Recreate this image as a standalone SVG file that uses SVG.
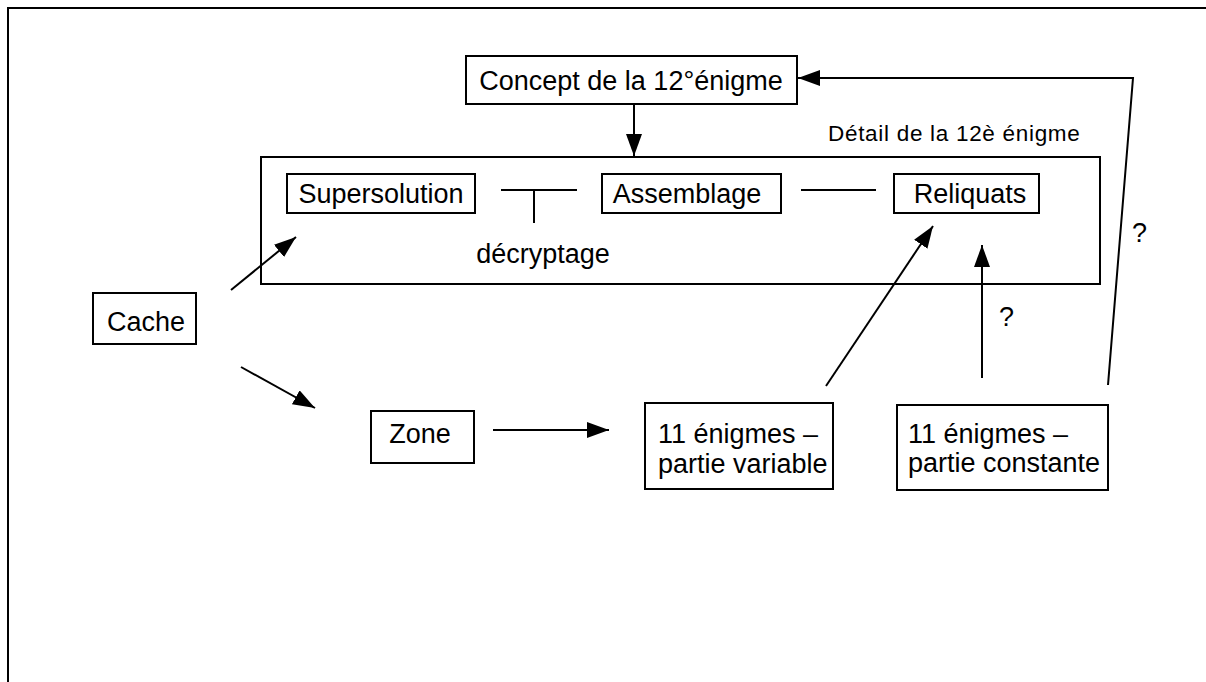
<svg xmlns="http://www.w3.org/2000/svg" width="1206" height="682" viewBox="0 0 1206 682">
<style>
.box{fill:#fff;stroke:#000;stroke-width:2}
.t{font-family:"Liberation Sans",Arial,sans-serif;font-size:27px;fill:#000}
.c{text-anchor:middle}
.ln{stroke:#000;stroke-width:2;fill:none}
</style>
<defs>
<marker id="ah" viewBox="0 0 22 16" refX="22" refY="8" markerWidth="22" markerHeight="16" markerUnits="userSpaceOnUse" orient="auto">
<path d="M0,0 L22,8 L0,16 Z" fill="#000"/>
</marker>
</defs>
<rect width="1206" height="682" fill="#fff"/>
<path class="ln" d="M8,682 V8 H1206"/>
<g id="container">
<rect class="box" x="261" y="157" width="839" height="127"/>
<text class="t" x="828" y="141" style="font-size:22.5px;letter-spacing:0.7px">Détail de la 12è énigme</text>
</g>
<g id="concept"><rect class="box" x="466" y="56" width="331" height="48"/><text class="t c" x="631" y="90">Concept de la 12°énigme</text></g>
<g id="supersolution"><rect class="box" x="287" y="174" width="188" height="39"/><text class="t c" x="381" y="203">Supersolution</text></g>
<g id="assemblage"><rect class="box" x="602" y="174" width="179" height="39"/><text class="t c" x="687" y="203">Assemblage</text></g>
<g id="reliquats"><rect class="box" x="894" y="174" width="145" height="39"/><text class="t c" x="970" y="203">Reliquats</text></g>
<g id="cache"><rect class="box" x="93" y="293" width="103" height="51"/><text class="t c" x="146" y="331">Cache</text></g>
<g id="zone"><rect class="box" x="371" y="411" width="103" height="52"/><text class="t c" x="420" y="443">Zone</text></g>
<g id="variable"><rect class="box" x="645" y="403" width="188" height="86"/><text class="t" x="658" y="443">11 énigmes –</text><text class="t" x="658" y="473">partie variable</text></g>
<g id="constante"><rect class="box" x="897" y="405" width="211" height="85"/><text class="t" x="908" y="443">11 énigmes –</text><text class="t" x="908" y="472">partie constante</text></g>
<g id="connectors">
<line class="ln" x1="634" y1="104" x2="634" y2="156" marker-end="url(#ah)"/>
<polyline class="ln" points="1108,385 1133,78 798,78" marker-end="url(#ah)"/>
<line class="ln" x1="501" y1="190" x2="577" y2="190"/>
<line class="ln" x1="534" y1="190" x2="534" y2="223"/>
<line class="ln" x1="801" y1="190" x2="876" y2="190"/>
<line class="ln" x1="231" y1="290" x2="296" y2="237" marker-end="url(#ah)"/>
<line class="ln" x1="241" y1="367" x2="315" y2="408" marker-end="url(#ah)"/>
<line class="ln" x1="493" y1="430" x2="609" y2="430" marker-end="url(#ah)"/>
<line class="ln" x1="826" y1="386" x2="933" y2="226" marker-end="url(#ah)"/>
<line class="ln" x1="982" y1="378" x2="982" y2="245" marker-end="url(#ah)"/>
<text class="t c" x="543" y="263">décryptage</text>
<text class="t" x="1132" y="242">?</text>
<text class="t" x="999" y="326">?</text>
</g>
</svg>
